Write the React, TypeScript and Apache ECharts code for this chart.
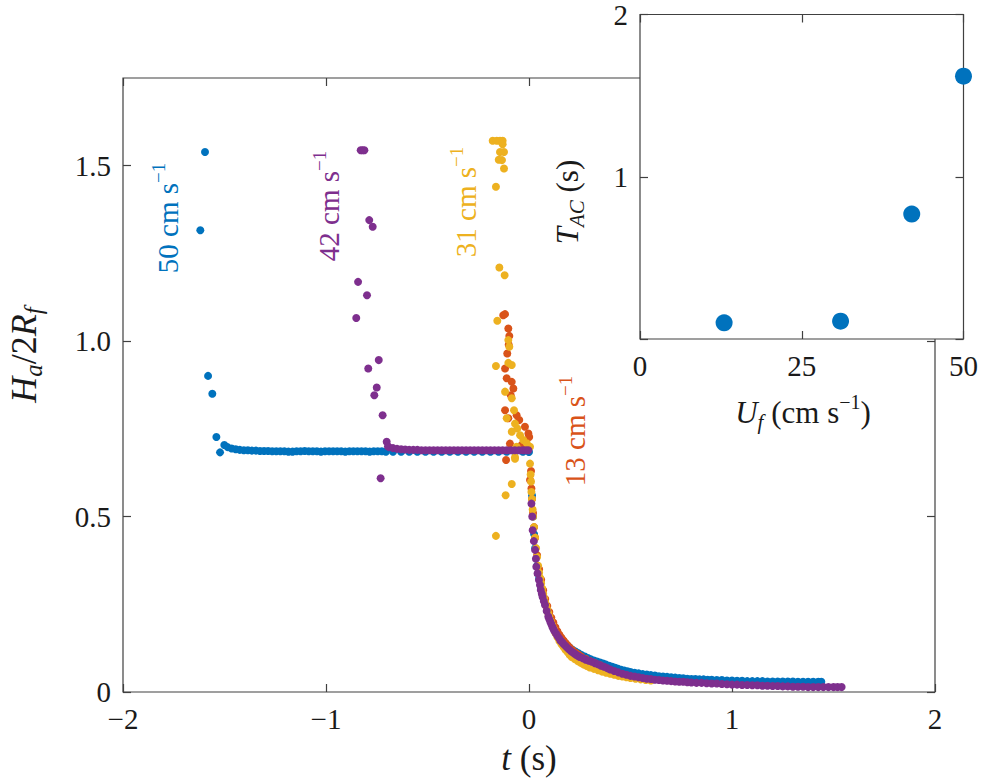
import { useEffect, useRef } from "react";
import * as echarts from "echarts";

// H_a / 2R_f against t (s), one list of [t, H] points per flow speed
const blue50: [number, number][] = [
  [-1.619, 1.316], [-1.596, 1.539], [-1.581, 0.901], [-1.56, 0.85], [-1.54, 0.727], [-1.522, 0.683],
  [-1.501, 0.704], [-1.485, 0.698], [-1.465, 0.694], [-1.445, 0.692], [-1.425, 0.69], [-1.405, 0.689],
  [-1.385, 0.689], [-1.365, 0.688], [-1.345, 0.688], [-1.325, 0.687], [-1.305, 0.687], [-1.285, 0.687],
  [-1.265, 0.686], [-1.245, 0.686], [-1.225, 0.686], [-1.205, 0.686], [-1.185, 0.685], [-1.165, 0.685],
  [-1.145, 0.686], [-1.125, 0.686], [-1.105, 0.687], [-1.085, 0.686], [-1.065, 0.686], [-1.045, 0.686],
  [-1.025, 0.685], [-1.005, 0.686], [-0.985, 0.686], [-0.965, 0.686], [-0.945, 0.686], [-0.925, 0.686],
  [-0.905, 0.685], [-0.885, 0.686], [-0.865, 0.686], [-0.845, 0.686], [-0.825, 0.686], [-0.805, 0.686],
  [-0.785, 0.685], [-0.765, 0.686], [-0.745, 0.686], [-0.725, 0.686], [-0.705, 0.685], [-0.67, 0.685],
  [-0.63, 0.685], [-0.59, 0.685], [-0.55, 0.685], [-0.51, 0.685], [-0.47, 0.685], [-0.43, 0.685],
  [-0.39, 0.685], [-0.35, 0.685], [-0.31, 0.685], [-0.27, 0.685], [-0.23, 0.685], [-0.19, 0.685],
  [-0.15, 0.685], [-0.11, 0.685], [-0.07, 0.685], [-0.03, 0.685], [0.0, 0.684],
  [0.015, 0.56], [0.02, 0.5], [0.025, 0.45], [0.03, 0.41], [0.04, 0.36], [0.05, 0.325], [0.06, 0.295],
  [0.07, 0.27], [0.08, 0.25], [0.09, 0.232], [0.1, 0.216], [0.11, 0.202], [0.12, 0.19], [0.13, 0.178],
  [0.14, 0.168], [0.15, 0.16], [0.16, 0.152], [0.17, 0.145], [0.18, 0.138], [0.19, 0.132], [0.2, 0.127],
  [0.215, 0.12], [0.23, 0.115], [0.245, 0.11], [0.26, 0.105], [0.275, 0.101], [0.29, 0.097], [0.305, 0.093],
  [0.32, 0.09], [0.335, 0.087], [0.35, 0.084], [0.365, 0.081], [0.38, 0.078], [0.395, 0.075], [0.41, 0.072],
  [0.425, 0.069], [0.44, 0.066], [0.455, 0.063], [0.47, 0.061], [0.485, 0.059], [0.5, 0.057], [0.52, 0.055],
  [0.54, 0.053], [0.56, 0.051], [0.58, 0.05], [0.6, 0.048], [0.62, 0.047], [0.64, 0.045], [0.66, 0.044],
  [0.68, 0.043], [0.7, 0.042], [0.72, 0.041], [0.74, 0.04], [0.76, 0.039], [0.78, 0.038], [0.8, 0.037],
  [0.82, 0.037], [0.84, 0.036], [0.86, 0.036], [0.88, 0.035], [0.9, 0.035], [0.925, 0.034], [0.95, 0.034],
  [0.975, 0.033], [1.0, 0.033], [1.025, 0.032], [1.05, 0.032], [1.075, 0.031], [1.1, 0.031], [1.125, 0.031],
  [1.15, 0.031], [1.175, 0.03], [1.2, 0.03], [1.225, 0.03], [1.25, 0.03], [1.275, 0.03], [1.3, 0.03],
  [1.325, 0.029], [1.35, 0.029], [1.375, 0.029], [1.4, 0.029], [1.425, 0.029], [1.44, 0.029]
];

const orange13: [number, number][] = [
  [-0.127, 1.074], [-0.118, 1.077], [-0.102, 1.036], [-0.097, 1.015], [-0.1, 0.99], [-0.107, 0.965],
  [-0.118, 0.922], [-0.11, 0.894], [-0.085, 0.884], [-0.077, 0.865], [-0.09, 0.846], [-0.118, 0.803],
  [-0.061, 0.789], [-0.102, 0.78], [-0.048, 0.775], [-0.02, 0.756], [-0.003, 0.737], [0.001, 0.727],
  [-0.094, 0.708], [-0.036, 0.704], [-0.113, 0.661], [0.005, 0.604],
  [0.01, 0.63], [0.012, 0.58], [0.015, 0.55], [0.02, 0.51], [0.025, 0.47], [0.03, 0.44], [0.04, 0.39],
  [0.05, 0.35], [0.06, 0.32], [0.07, 0.29], [0.08, 0.265], [0.09, 0.245], [0.1, 0.228], [0.11, 0.212],
  [0.12, 0.198], [0.13, 0.185], [0.14, 0.173], [0.15, 0.163], [0.16, 0.155], [0.17, 0.147], [0.18, 0.14],
  [0.19, 0.133], [0.2, 0.127], [0.215, 0.119], [0.23, 0.112], [0.245, 0.106], [0.26, 0.1], [0.28, 0.094],
  [0.3, 0.088], [0.325, 0.082], [0.35, 0.076]
];

const yellow31: [number, number][] = [
  [-0.179, 1.571], [-0.159, 1.571], [-0.143, 1.571], [-0.13, 1.571], [-0.13, 1.561], [-0.143, 1.539],
  [-0.123, 1.539], [-0.149, 1.517], [-0.133, 1.516], [-0.123, 1.492], [-0.163, 1.44], [-0.146, 1.21],
  [-0.12, 1.188], [-0.156, 1.058], [-0.102, 1.003], [-0.097, 0.984], [-0.163, 0.929], [-0.102, 0.938],
  [-0.085, 0.932], [-0.118, 0.856], [-0.085, 0.837], [-0.074, 0.803], [-0.11, 0.78], [-0.069, 0.765],
  [-0.058, 0.751], [-0.085, 0.742], [-0.044, 0.732], [-0.028, 0.718], [-0.011, 0.709], [-0.061, 0.699],
  [0.005, 0.699], [-0.069, 0.665], [0.005, 0.651], [-0.069, 0.669], [-0.085, 0.593], [-0.115, 0.561],
  [-0.163, 0.445],
  [0.008, 0.62], [0.01, 0.6], [0.012, 0.57], [0.015, 0.55], [0.018, 0.52], [0.02, 0.5], [0.025, 0.47],
  [0.03, 0.44], [0.035, 0.41], [0.04, 0.385], [0.045, 0.36], [0.05, 0.34], [0.055, 0.325], [0.06, 0.31],
  [0.065, 0.295], [0.07, 0.28], [0.075, 0.267], [0.08, 0.255], [0.085, 0.245], [0.09, 0.235], [0.095, 0.225],
  [0.1, 0.215], [0.108, 0.202], [0.115, 0.19], [0.123, 0.179], [0.13, 0.168], [0.14, 0.156], [0.15, 0.145],
  [0.16, 0.136], [0.17, 0.128], [0.18, 0.12], [0.19, 0.113], [0.2, 0.106], [0.21, 0.1], [0.225, 0.094],
  [0.24, 0.088], [0.255, 0.083], [0.27, 0.078], [0.285, 0.074], [0.3, 0.07], [0.32, 0.066], [0.34, 0.062],
  [0.36, 0.058], [0.38, 0.055], [0.4, 0.052], [0.42, 0.049], [0.44, 0.046], [0.46, 0.044], [0.48, 0.042],
  [0.5, 0.04], [0.525, 0.038], [0.55, 0.036], [0.575, 0.034], [0.6, 0.033]
];

const purple42: [number, number][] = [
  [-0.851, 1.066], [-0.842, 1.169], [-0.829, 1.544], [-0.82, 1.544], [-0.811, 1.544], [-0.798, 1.131],
  [-0.792, 0.922], [-0.787, 1.345], [-0.77, 1.326], [-0.762, 0.846], [-0.75, 0.868], [-0.74, 0.946],
  [-0.731, 0.609], [-0.721, 0.789], [-0.701, 0.713], [-0.695, 0.7],
  [-0.69, 0.698], [-0.67, 0.695], [-0.65, 0.693], [-0.63, 0.692], [-0.61, 0.691], [-0.59, 0.69],
  [-0.57, 0.69], [-0.55, 0.69], [-0.53, 0.689], [-0.51, 0.689], [-0.49, 0.689], [-0.47, 0.689],
  [-0.45, 0.689], [-0.43, 0.689], [-0.41, 0.689], [-0.39, 0.689], [-0.37, 0.689], [-0.35, 0.689],
  [-0.33, 0.689], [-0.31, 0.689], [-0.29, 0.689], [-0.27, 0.689], [-0.25, 0.689], [-0.23, 0.689],
  [-0.21, 0.689], [-0.19, 0.689], [-0.17, 0.689], [-0.15, 0.689], [-0.13, 0.689], [-0.11, 0.689],
  [-0.09, 0.689], [-0.07, 0.689], [-0.05, 0.689], [-0.03, 0.689], [-0.015, 0.689], [-0.003, 0.689],
  [0.012, 0.537], [0.016, 0.5], [0.018, 0.461], [0.024, 0.43], [0.03, 0.405], [0.034, 0.38], [0.036, 0.357],
  [0.042, 0.338], [0.049, 0.319], [0.054, 0.305], [0.058, 0.291], [0.063, 0.28], [0.067, 0.271],
  [0.073, 0.259], [0.079, 0.248], [0.087, 0.231], [0.095, 0.215], [0.1, 0.207], [0.105, 0.2], [0.11, 0.193],
  [0.115, 0.186], [0.12, 0.18], [0.125, 0.174], [0.133, 0.167], [0.14, 0.16], [0.148, 0.153], [0.155, 0.147],
  [0.163, 0.142], [0.17, 0.137], [0.18, 0.131], [0.19, 0.125], [0.2, 0.12], [0.21, 0.115], [0.22, 0.111],
  [0.23, 0.107], [0.24, 0.103], [0.25, 0.1], [0.265, 0.096], [0.28, 0.092], [0.295, 0.089], [0.31, 0.086],
  [0.325, 0.082], [0.34, 0.079], [0.355, 0.075], [0.37, 0.072], [0.385, 0.068], [0.4, 0.064], [0.42, 0.06],
  [0.44, 0.056], [0.46, 0.052], [0.48, 0.049], [0.5, 0.046], [0.52, 0.044], [0.54, 0.042], [0.56, 0.04],
  [0.58, 0.038], [0.6, 0.037], [0.62, 0.035], [0.64, 0.034], [0.66, 0.033], [0.68, 0.032], [0.7, 0.031],
  [0.72, 0.03], [0.74, 0.029], [0.76, 0.029], [0.78, 0.028], [0.8, 0.027], [0.825, 0.026], [0.85, 0.026],
  [0.875, 0.025], [0.9, 0.024], [0.925, 0.024], [0.95, 0.023], [0.975, 0.022], [1.0, 0.021], [1.025, 0.021],
  [1.05, 0.02], [1.075, 0.02], [1.1, 0.019], [1.125, 0.019], [1.15, 0.018], [1.175, 0.018], [1.2, 0.017],
  [1.225, 0.017], [1.25, 0.016], [1.275, 0.016], [1.3, 0.015], [1.325, 0.015], [1.35, 0.015], [1.375, 0.014],
  [1.4, 0.014], [1.425, 0.014], [1.45, 0.014], [1.475, 0.014], [1.5, 0.014], [1.52, 0.014], [1.54, 0.014]
];

// inset: T_AC (s) against U_f (cm s^-1)
const insetSpeeds = [13, 31, 42, 50];
const insetTac = [0.1, 0.11, 0.77, 1.62];

const mainXLabels: Record<string, string> = { "-2": "\u22122", "-1": "\u22121", "0": "0", "1": "1", "2": "2" };
const mainYLabels: Record<string, string> = { "0": "0", "0.5": "0.5", "1": "1.0", "1.5": "1.5" };
const insetXLabels: Record<string, string> = { "0": "0", "25": "25", "50": "50" };
const insetYLabels: Record<string, string> = { "1": "1", "2": "2" };
const speedLabels = ["50", "42", "31", "13"];

const BLUE = "#0072BD";
const ORANGE = "#D95319";
const YELLOW = "#EDB120";
const PURPLE = "#7E2F8E";
const AXIS = "#404040";
const INK = "#1a1a1a";
const SERIF = "Liberation Serif";

// a rich-text token in the serif face
function tok(size: number, fill: string, extra: Record<string, unknown> = {}) {
  return { fontSize: size, fontFamily: SERIF, fill, ...extra };
}

function speedText(label: string, color: string) {
  return {
    text: `{n|${label} cm s}{sup|\u22121}`,
    fontSize: 29,
    fontFamily: SERIF,
    fill: color,
    rich: {
      n: tok(29, color, { lineHeight: 38 }),
      sup: tok(19, color, { lineHeight: 22, verticalAlign: "top" })
    },
    align: "center",
    verticalAlign: "middle"
  };
}

function axisPair(grid: number, min: number, max: number, interval: number, labels: Record<string, string>, z: number) {
  const common = {
    gridIndex: grid,
    type: "value" as const,
    min,
    max,
    interval,
    z,
    axisLine: { show: false, onZero: false },
    axisTick: { inside: true, length: 8, lineStyle: { color: AXIS, width: 1.2 } },
    splitLine: { show: false }
  };
  return [
    {
      ...common,
      axisLabel: {
        margin: 12,
        fontSize: 29,
        fontFamily: SERIF,
        color: INK,
        showMaxLabel: String(max) in labels,
        formatter: (v: number) => labels[String(v)] ?? ""
      }
    },
    { ...common, axisLabel: { show: false } }
  ];
}

export default function App() {
  const ref = useRef<HTMLDivElement | null>(null);

  useEffect(() => {
    if (!ref.current) {
      return;
    }
    const chart = echarts.init(ref.current, undefined, { renderer: "svg" });
    const [xb, xt] = axisPair(0, -2, 2, 1, mainXLabels, 0);
    const [yl, yr] = axisPair(0, 0, 1.75, 0.5, mainYLabels, 0);
    const [ixb, ixt] = axisPair(1, 0, 50, 25, insetXLabels, 11);
    const [iyl, iyr] = axisPair(1, 0, 2, 1, insetYLabels, 11);

    const dots = (name: string, data: [number, number][], color: string) => ({
      name,
      type: "scatter",
      xAxisIndex: 0,
      yAxisIndex: 0,
      data,
      symbolSize: 8,
      itemStyle: { color, opacity: 1 },
      z: 2
    });

    chart.setOption({
      animation: false,
      grid: [
        { left: 123, top: 78, width: 812, height: 614, show: true, borderColor: AXIS, borderWidth: 1.2, z: 0 },
        {
          left: 640, top: 14, width: 327, height: 325, show: true, borderColor: AXIS, borderWidth: 1.2,
          backgroundColor: "#fff", z: 10
        }
      ],
      xAxis: [
        { ...xb, position: "bottom" },
        { ...xt, position: "top" },
        { ...ixb, position: "bottom" },
        { ...ixt, position: "top" }
      ],
      yAxis: [
        { ...yl, position: "left" },
        { ...yr, position: "right" },
        { ...iyl, position: "left" },
        { ...iyr, position: "right" }
      ],
      series: [
        dots("50 cm/s", blue50, BLUE),
        dots("13 cm/s", orange13, ORANGE),
        dots("31 cm/s", yellow31, YELLOW),
        dots("42 cm/s", purple42, PURPLE),
        {
          name: "T_AC",
          type: "scatter",
          xAxisIndex: 2,
          yAxisIndex: 2,
          data: insetSpeeds.map((u, i) => [u, insetTac[i]]),
          symbolSize: 17,
          itemStyle: { color: BLUE, opacity: 1 },
          z: 12
        }
      ],
      graphic: [
        // main axis titles
        {
          type: "text",
          x: 529,
          y: 758,
          z: 20,
          style: {
            text: "{i|t}{n| (s)}",
            fontSize: 35,
            fontFamily: SERIF,
            fill: INK,
            rich: {
              i: tok(35, INK, { fontStyle: "italic" }),
              n: tok(35, INK)
            },
            align: "center",
            verticalAlign: "middle"
          }
        },
        {
          type: "text",
          x: 24,
          y: 355,
          rotation: Math.PI / 2,
          z: 20,
          style: {
            text: "{i|H}{s|a}{n|/2}{i|R}{s|f}",
            fontSize: 36,
            fontFamily: SERIF,
            fill: INK,
            rich: {
              i: tok(36, INK, { fontStyle: "italic", lineHeight: 44 }),
              n: tok(36, INK, { lineHeight: 44 }),
              s: tok(25, INK, { fontStyle: "italic", lineHeight: 24, verticalAlign: "bottom" })
            },
            align: "center",
            verticalAlign: "middle"
          }
        },
        // inset axis titles
        {
          type: "text",
          x: 567,
          y: 202,
          rotation: Math.PI / 2,
          z: 20,
          style: {
            text: "{i|T}{s|AC}{n| (s)}",
            fontSize: 31,
            fontFamily: SERIF,
            fill: INK,
            rich: {
              i: tok(31, INK, { fontStyle: "italic", lineHeight: 40 }),
              n: tok(31, INK, { lineHeight: 40 }),
              s: tok(21, INK, { fontStyle: "italic", lineHeight: 22, verticalAlign: "bottom" })
            },
            align: "center",
            verticalAlign: "middle"
          }
        },
        {
          type: "text",
          x: 803,
          y: 412,
          z: 20,
          style: {
            text: "{i|U}{s|f}{n| (cm s}{sup|\u22121}{n|)}",
            fontSize: 31,
            fontFamily: SERIF,
            fill: INK,
            rich: {
              i: tok(31, INK, { fontStyle: "italic", lineHeight: 40 }),
              n: tok(31, INK, { lineHeight: 40 }),
              s: tok(21, INK, { fontStyle: "italic", lineHeight: 22, verticalAlign: "bottom" }),
              sup: tok(20, INK, { lineHeight: 24, verticalAlign: "top" })
            },
            align: "center",
            verticalAlign: "middle"
          }
        },
        // speed annotations
        { type: "text", x: 168, y: 218, rotation: Math.PI / 2, z: 20, style: speedText(speedLabels[0], BLUE) },
        { type: "text", x: 329, y: 206, rotation: Math.PI / 2, z: 20, style: speedText(speedLabels[1], PURPLE) },
        { type: "text", x: 466, y: 202, rotation: Math.PI / 2, z: 20, style: speedText(speedLabels[2], YELLOW) },
        { type: "text", x: 575, y: 431, rotation: Math.PI / 2, z: 20, style: speedText(speedLabels[3], ORANGE) }
      ]
    });

    return () => {
      chart.dispose();
    };
  }, []);

  return (
    <div
      ref={ref}
      style={{ position: "absolute", left: 0, top: 0, width: 981, height: 784, background: "#fff" }}
    />
  );
}
